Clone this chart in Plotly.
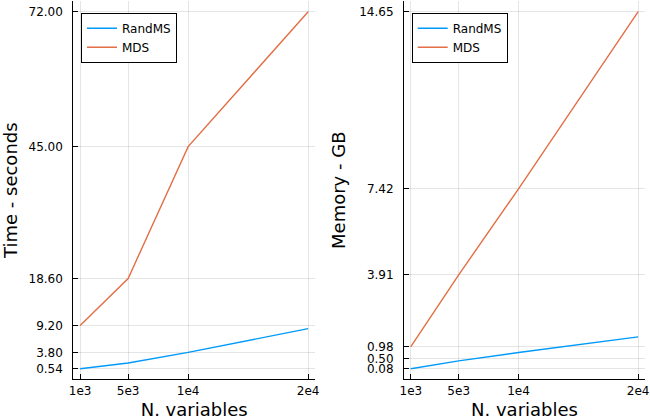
import plotly.graph_objects as go

# Data
n_vars = [1000, 5000, 10000, 20000]
x_tickvals = [1000, 5000, 10000, 20000]
x_ticktext = ["1e3", "5e3", "1e4", "2e4"]

time_randms = [0.54, 1.68, 3.80, 8.55]
time_mds = [9.20, 18.60, 45.00, 72.00]
time_ticks = [0.54, 3.80, 9.20, 18.60, 45.00, 72.00]

mem_randms = [0.08, 0.40, 0.74, 1.38]
mem_mds = [0.98, 3.91, 7.42, 14.65]
mem_ticks = [0.08, 0.50, 0.98, 3.91, 7.42, 14.65]

BLUE = "#009AFA"
ORANGE = "#E26F46"
FONT = "DejaVu Sans"


def padded(vals, frac=0.03):
    lo, hi = min(vals), max(vals)
    d = (hi - lo) * frac
    return [lo - d, hi + d]


fig = go.Figure()
fig.add_trace(go.Scatter(x=n_vars, y=time_randms, mode="lines", name="RandMS",
                         line=dict(color=BLUE, width=1.4), xaxis="x", yaxis="y", legend="legend"))
fig.add_trace(go.Scatter(x=n_vars, y=time_mds, mode="lines", name="MDS",
                         line=dict(color=ORANGE, width=1.4), xaxis="x", yaxis="y", legend="legend"))
fig.add_trace(go.Scatter(x=n_vars, y=mem_randms, mode="lines", name="RandMS",
                         line=dict(color=BLUE, width=1.4), xaxis="x2", yaxis="y2", legend="legend2"))
fig.add_trace(go.Scatter(x=n_vars, y=mem_mds, mode="lines", name="MDS",
                         line=dict(color=ORANGE, width=1.4), xaxis="x2", yaxis="y2", legend="legend2"))

W, H = 650, 420
ydom = [40.6 / H, 419 / H]
TITLE_FONT = dict(family=FONT, size=18, color="black")

common_x = dict(
    tickvals=x_tickvals, ticktext=x_ticktext, range=padded(n_vars),
    showline=True, linecolor="black", linewidth=1, mirror=False,
    ticks="inside", ticklen=5, tickcolor="black", tickwidth=1,
    showgrid=True, gridcolor="rgba(0,0,0,0.1)", gridwidth=1, zeroline=False,
    tickfont=dict(family=FONT, size=12, color="black"),
    title=dict(text="N. variables", font=TITLE_FONT, standoff=14),
    automargin=False, ticklabelstandoff=0,
)
common_y = dict(
    showline=True, linecolor="black", linewidth=1, mirror=False,
    ticks="inside", ticklen=5, tickcolor="black", tickwidth=1,
    showgrid=True, gridcolor="rgba(0,0,0,0.1)", gridwidth=1, zeroline=False,
    tickfont=dict(family=FONT, size=12, color="black"),
    automargin=False, ticklabelstandoff=7,
)

LEG = dict(xanchor="left", yanchor="top", bordercolor="black", borderwidth=1,
           bgcolor="white", font=dict(family=FONT, size=12, color="black"),
           tracegroupgap=0, itemwidth=30)

fig.update_layout(
    width=W, height=H,
    margin=dict(l=0, r=0, t=0, b=0),
    paper_bgcolor="white", plot_bgcolor="white",
    font=dict(family=FONT, size=12, color="black"),
    xaxis=dict(domain=[73.3 / W, 315 / W], anchor="y", **common_x),
    xaxis2=dict(domain=[404 / W, 645 / W], anchor="y2", **common_x),
    yaxis=dict(domain=ydom, anchor="x", range=padded(time_mds + time_randms),
               tickvals=time_ticks, ticktext=[f"{v:.2f}" for v in time_ticks],
               title=dict(text="Time - seconds", font=TITLE_FONT, standoff=8),
               **common_y),
    yaxis2=dict(domain=ydom, anchor="x2", range=padded(mem_mds + mem_randms),
                tickvals=mem_ticks, ticktext=[f"{v:.2f}" for v in mem_ticks],
                title=dict(text="Memory - GB", font=TITLE_FONT, standoff=8),
                **common_y),
    legend=dict(x=81 / W, y=1 - 12.7 / H, **LEG),
    legend2=dict(x=411.7 / W, y=1 - 12.7 / H, **LEG),
)

fig.write_html("out.html")
